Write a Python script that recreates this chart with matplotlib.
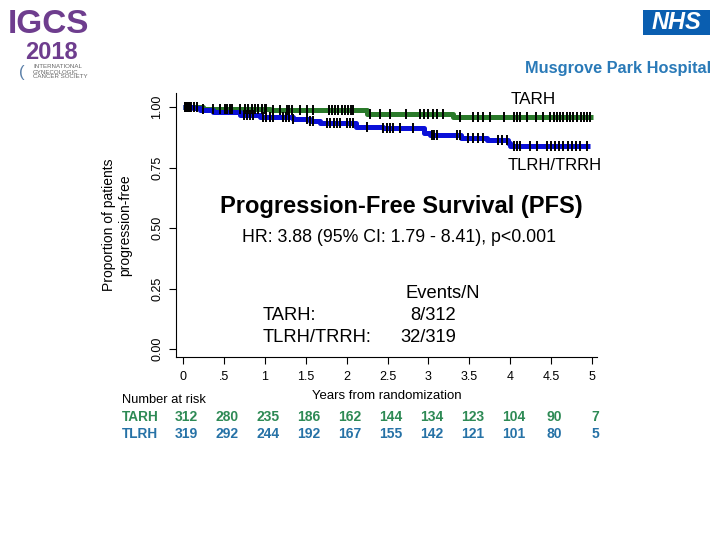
import numpy as np
import matplotlib
matplotlib.use("Agg")
import matplotlib.pyplot as plt
from matplotlib import transforms
from matplotlib.patches import Rectangle

plt.rcParams['font.family'] = ['Liberation Sans', 'DejaVu Sans']

# ---- data ----
tarh_t = [0.0, 0.25, 1.06, 2.25, 3.30]
tarh_s = [1.000, 0.993, 0.986, 0.973, 0.958]
tarh_end = 5.01

tlrh_t = [0.0, 0.12, 0.21, 0.37, 0.70, 0.94, 1.35, 1.55, 1.67, 2.12, 2.45, 2.95, 3.02, 3.40, 3.72, 3.97, 4.00]
tlrh_s = [1.000, 0.994, 0.988, 0.980, 0.967, 0.959, 0.949, 0.942, 0.933, 0.919, 0.913, 0.893, 0.884, 0.872, 0.864, 0.851, 0.839]
tlrh_end = 4.98

tarh_cens = [0.02, 0.04, 0.06, 0.08, 0.10, 0.13, 0.17, 0.25, 0.37, 0.45, 0.51, 0.54, 0.57, 0.60,
             0.70, 0.76, 0.80, 0.84, 0.88, 0.92, 0.96, 1.00, 1.02, 1.10, 1.19, 1.27, 1.30, 1.33,
             1.43, 1.51, 1.59, 1.78, 1.82, 1.86, 1.90, 1.94, 1.98, 2.02, 2.05, 2.08, 2.29, 2.41,
             2.53, 2.73, 2.90, 2.95, 3.00, 3.05, 3.10, 3.18, 3.39, 3.55, 3.60, 3.67, 3.75, 3.92,
             4.04, 4.08, 4.12, 4.20, 4.32, 4.40, 4.49, 4.53, 4.57, 4.61, 4.65, 4.69, 4.73, 4.77,
             4.81, 4.86, 4.90, 4.94, 4.98]
tlrh_cens = [0.02, 0.04, 0.06, 0.08, 0.74, 0.78, 0.82, 0.86, 0.98, 1.02, 1.06, 1.10, 1.22, 1.26,
             1.30, 1.35, 1.51, 1.55, 1.59, 1.76, 1.80, 1.84, 1.88, 1.92, 2.00, 2.04, 2.08, 2.25,
             2.45, 2.49, 2.53, 2.57, 2.65, 2.81, 3.04, 3.07, 3.10, 3.35, 3.39, 3.48, 3.54, 3.60,
             3.67, 3.85, 3.90, 3.96, 4.04, 4.08, 4.12, 4.24, 4.33, 4.45, 4.50, 4.55, 4.60, 4.65,
             4.70, 4.75, 4.80, 4.85, 4.94]

xticks = [0, 0.5, 1, 1.5, 2, 2.5, 3, 3.5, 4, 4.5, 5]
xtick_labels = ["0", ".5", "1", "1.5", "2", "2.5", "3", "3.5", "4", "4.5", "5"]
yticks = [0, 0.25, 0.5, 0.75, 1.0]
ytick_labels = ["0.00", "0.25", "0.50", "0.75", "1.00"]

risk_tarh = [312, 280, 235, 186, 162, 144, 134, 123, 104, 90, 7]
risk_tlrh = [319, 292, 244, 192, 167, 155, 142, 121, 101, 80, 5]

GREEN = "#2a7a2a"
BLUE = "#0a10d8"
RT_GREEN = "#2e8a55"
RT_BLUE = "#2672a6"
PURPLE = "#6e3d8e"

fig = plt.figure(figsize=(7.2, 5.4), dpi=100)
ax = fig.add_axes([176/720, 1-357/540, (597-176)/720, (357-93)/540])


def step_at(times, surv, x):
    idx = np.searchsorted(times, x, side='right') - 1
    return np.asarray(surv)[idx]


for t, s, end, cens, col in [(tarh_t, tarh_s, tarh_end, tarh_cens, GREEN),
                             (tlrh_t, tlrh_s, tlrh_end, tlrh_cens, BLUE)]:
    tx = list(t) + [end]
    sy = list(s) + [s[-1]]
    ax.step(tx, sy, where='post', color=col, lw=3.6, solid_capstyle='butt', zorder=2)
    cy = step_at(t, s, cens)
    ax.plot(cens, cy, ls='none', marker='|', ms=7.5, mew=1.4, color='black', zorder=3)

ax.set_xlim(-0.086, 5.06)
ax.set_ylim(-0.033, 1.058)
ax.set_xticks(xticks)
ax.set_xticklabels(xtick_labels)
ax.set_yticks(yticks)
ax.set_yticklabels(ytick_labels, rotation=90, va='center')
ax.tick_params(axis='both', direction='out', length=5, width=0.8, labelsize=9, colors='black')
ax.tick_params(axis='x', pad=5)
ax.tick_params(axis='y', pad=4)
for sp in ['top', 'right']:
    ax.spines[sp].set_visible(False)
for sp in ['left', 'bottom']:
    ax.spines[sp].set_linewidth(0.8)
ax.set_xlabel("Years from randomization", fontsize=9.5, labelpad=5)
fig.text(117/720, 1-225/540, "Proportion of patients\nprogression-free", rotation=90,
         ha='center', va='center', fontsize=10, linespacing=1.15)

# curve labels & annotations
fig.text(533/720, 1-99/540, "TARH", ha='center', va='center', fontsize=12.3)
fig.text(555/720, 1-165/540, "TLRH/TRRH", ha='center', va='center', fontsize=12)
fig.text(401/720, 1-206/540, "Progression-Free Survival (PFS)", ha='center', va='center',
         fontsize=17, fontweight='bold')
fig.text(399/720, 1-237/540, "HR: 3.88 (95% CI: 1.79 - 8.41), p<0.001", ha='center', va='center',
         fontsize=12.8)
fig.text(443/720, 1-293/540, "Events/N", ha='center', va='center', fontsize=13.2)
fig.text(263/720, 1-315/540, "TARH:", ha='left', va='center', fontsize=13.2)
fig.text(433/720, 1-315/540, "8/312", ha='center', va='center', fontsize=13.2)
fig.text(263/720, 1-337/540, "TLRH/TRRH:", ha='left', va='center', fontsize=13.2)
fig.text(428/720, 1-337/540, "32/319", ha='center', va='center', fontsize=13.2)

# number at risk table
blend = transforms.blended_transform_factory(ax.transData, fig.transFigure)
fig.text(122/720, 1-400/540, "Number at risk", ha='left', va='center', fontsize=9.3)
fig.text(122/720, 1-417/540, "TARH", ha='left', va='center', fontsize=9.8, fontweight='bold', color=RT_GREEN)
fig.text(122/720, 1-434/540, "TLRH", ha='left', va='center', fontsize=9.8, fontweight='bold', color=RT_BLUE)
for xv, a, b in zip(xticks, risk_tarh, risk_tlrh):
    ax.text(xv + 0.04, 1-417/540, str(a), transform=blend, ha='center', va='center',
            fontsize=10, fontweight='bold', color=RT_GREEN, clip_on=False)
    ax.text(xv + 0.04, 1-434/540, str(b), transform=blend, ha='center', va='center',
            fontsize=10, fontweight='bold', color=RT_BLUE, clip_on=False)

# logos
fig.text(48/720, 1-33/540, "IGCS", ha='center', va='baseline', fontsize=24, fontweight='bold',
         color=PURPLE)
fig.text(51/720, 1-41/540, "2018", ha='center', va='top', fontsize=17, fontweight='bold',
         color=PURPLE)
fig.text(33/720, 1-72/540, "INTERNATIONAL\nGYNECOLOGIC\nCANCER SOCIETY", ha='left', va='center',
         fontsize=4.4, color='#666666', linespacing=1.0)
fig.text(22/720, 1-72/540, "(", ha='center', va='center', fontsize=12, color='#5a7fa8')
fig.patches.append(Rectangle((643/720, 1-35/540), 67/720, 25/540, transform=fig.transFigure,
                             facecolor='#0a5eb0', edgecolor='none'))
fig.text(676/720, 1-22.5/540, "NHS", ha='center', va='center', fontsize=17, fontweight='bold',
         style='italic', color='white')
fig.text(711/720, 1-69/540, "Musgrove Park Hospital", ha='right', va='center', fontsize=11.8,
         fontweight='bold', color='#2a7ab8')

fig.savefig("out.png", dpi=100)
